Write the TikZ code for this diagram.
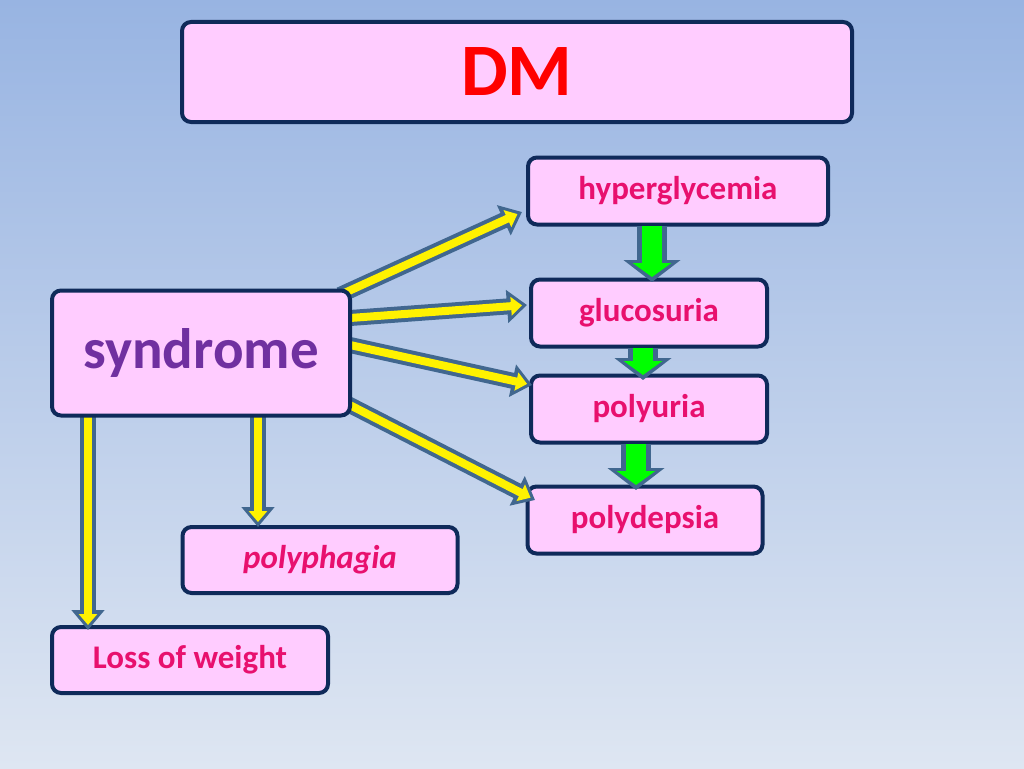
\documentclass[tikz,border=0pt]{standalone}
\usepackage{fontspec}
\setmainfont{Carlito}
\usetikzlibrary{arrows.meta}
\definecolor{bord}{HTML}{0F2A5A}
\definecolor{boxf}{HTML}{FFCCFF}
\definecolor{slate}{HTML}{41678F}
\definecolor{txt}{HTML}{E8106E}
\definecolor{purp}{HTML}{7030A0}
\tikzset{
 box/.style={draw=bord,line width=4pt,fill=boxf,rounded corners=9pt,inner sep=0pt},
 lbl/.style={font=\bfseries\fontsize{33}{38}\selectfont,text=txt},
 yarr/.style={line width=16pt,slate,-{Triangle[width=32pt,length=20pt]}},
 yin/.style={line width=8pt,yellow,shorten >=5pt,-{Triangle[width=18pt,length=11pt]}},
 garr/.style={line width=30pt,slate,-{Triangle[width=56pt,length=22pt]}},
 gin/.style={line width=20pt,green,shorten >=5pt,-{Triangle[width=38pt,length=14pt]}}
}
\begin{document}
\begin{tikzpicture}[x=1pt,y=-1pt]
\path[top color={rgb,255:red,152;green,180;blue,226},bottom color={rgb,255:red,222;green,230;blue,242}] (0,0) rectangle (1024,768);
\useasboundingbox (0,0) rectangle (1024,768);
\node[box,minimum width=670pt,minimum height=100pt,font=\bfseries\fontsize{74}{80}\selectfont,text=red] (dm) at (517,72) {DM};
\node[box,minimum width=300pt,minimum height=67pt,lbl] (hy) at (678,191) {hyperglycemia};
\node[box,minimum width=236pt,minimum height=67pt,lbl] (gl) at (649,313) {glucosuria};
\node[box,minimum width=236pt,minimum height=67pt,lbl] (po) at (649,409) {polyuria};
\node[box,minimum width=235pt,minimum height=67pt,lbl] (pd) at (645,520) {polydepsia};
\node[box,minimum width=275pt,minimum height=66pt,lbl,font=\bfseries\itshape\fontsize{33}{38}\selectfont] (pp) at (320,560) {polyphagia};
\node[box,minimum width=276pt,minimum height=66pt,lbl] (lw) at (190,660) {Loss of weight};
\foreach \a/\b in {{(340,295)}/{(522,212)},{(350,318)}/{(527,305)},{(350,345)}/{(532,385)},{(340,400)}/{(535,500)},{(88,413)}/{(88,630)},{(258,413)}/{(258,527)}}{
 \draw[yarr] \a -- \b; \draw[yin] \a -- \b;}
\node[box,minimum width=298pt,minimum height=125pt,font=\bfseries\fontsize{57}{62}\selectfont,text=purp] (syn) at (201,353) {syndrome};
\draw[garr] (652,226) -- (652,282); \draw[gin] (652,226) -- (652,282);
\draw[garr] (643,348) -- (643,380); \draw[gin] (643,348) -- (643,380);
\draw[garr] (636,444) -- (636,490); \draw[gin] (636,444) -- (636,490);
\end{tikzpicture}
\end{document}
